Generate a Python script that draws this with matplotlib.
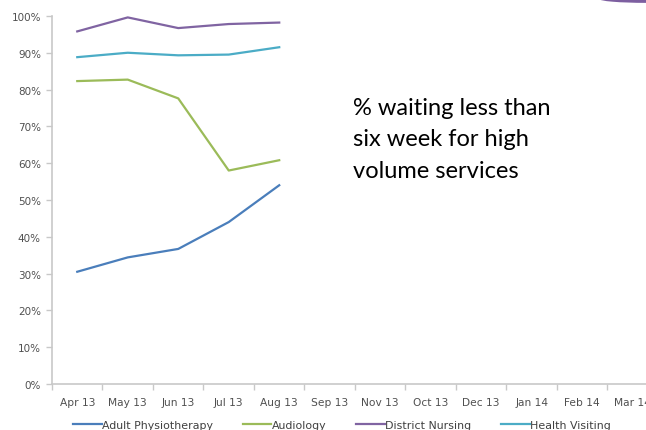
import numpy as np
from matplotlib import pyplot as plt
from matplotlib.patches import Ellipse

months = ["Apr 13", "May 13", "Jun 13", "Jul 13", "Aug 13", "Sep 13",
          "Nov 13", "Oct 13", "Dec 13", "Jan 14", "Feb 14", "Mar 14"]

# % waiting under six weeks, Apr-Aug 13
physio = [0.305, 0.344, 0.367, 0.440, 0.540]
audiology = [0.823, 0.827, 0.776, 0.580, 0.608]
district_nursing = [0.958, 0.996, 0.967, 0.978, 0.982]
health_visiting = [0.888, 0.900, 0.893, 0.895, 0.915]

series = [("Adult Physiotherapy", physio, "#4a7ebb"),
          ("Audiology", audiology, "#9bbb59"),
          ("District Nursing", district_nursing, "#8064a2"),
          ("Health Visiting", health_visiting, "#4bacc6")]

fig = plt.figure(figsize=(6.46, 4.31), dpi=100)
fig.set_facecolor("white")
ax = fig.add_axes([0.0805, 0.1067, 0.938, 0.854])

for name, vals, col in series:
    ax.plot(np.arange(len(vals)), vals, color=col, lw=1.6, label=name,
            solid_joinstyle="round")

ax.set_xlim(-0.5, len(months) - 0.5)
ax.set_ylim(0, 1)
ax.set_yticks(np.arange(0, 1.01, 0.1))
ax.set_yticklabels(["{:d}%".format(int(round(v * 100))) for v in np.arange(0, 1.01, 0.1)])
ax.set_xticks(np.arange(len(months)))
ax.set_xticklabels(months)
ax.set_xticks(np.arange(-0.5, len(months), 1), minor=True)
ax.tick_params(axis="x", which="major", length=0, pad=9, labelsize=7.7, labelcolor="#505050")
ax.tick_params(axis="x", which="minor", length=4, color="#c8c8c8", width=1)
ax.tick_params(axis="y", length=4, color="#c8c8c8", width=1, pad=4,
               labelsize=7.5, labelcolor="#505050")

for side in ["top", "right"]:
    ax.spines[side].set_visible(False)
for side in ["left", "bottom"]:
    ax.spines[side].set_color("#c8c8c8")
    ax.spines[side].set_linewidth(1.2)
ax.spines["bottom"].set_clip_on(False)

fig.text(0.546, 0.773, "% waiting less than\nsix week for high\nvolume services",
         fontsize=17, color="#000000", family="Lato", va="top", ha="left",
         linespacing=1.62)

fig.legend(loc="lower left", bbox_to_anchor=(0.098, -0.022), ncol=4, frameon=False,
           fontsize=7.9, handlelength=2.6, handletextpad=0.05, columnspacing=2.7,
           labelcolor="#404040")

# purple corner shape at top right
fig.patches.append(Ellipse((1.0, 1.0), 0.145, 0.018, transform=fig.transFigure,
                           facecolor="#7d5fa0", edgecolor="none", figure=fig))

fig.savefig("out.png", dpi=100)
